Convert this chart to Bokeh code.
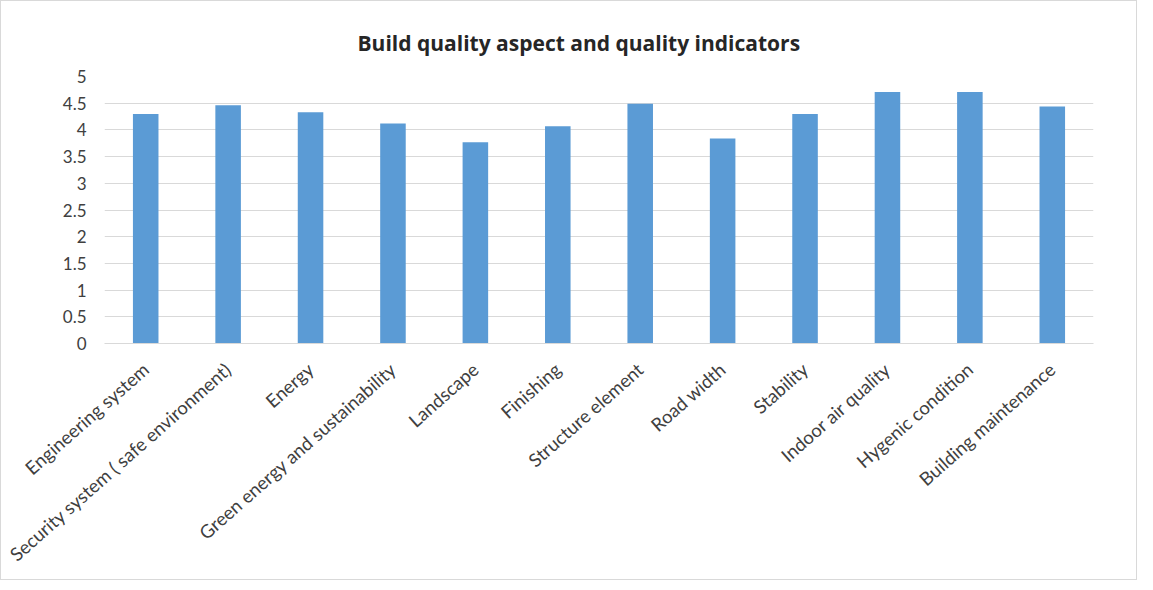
from bokeh.plotting import figure
from bokeh.embed import file_html
from bokeh.resources import INLINE
from bokeh.models import FixedTicker, ColumnDataSource
import math

categories = ["Engineering system", "Security system ( safe environment)", "Energy",
              "Green energy and sustainability", "Landscape", "Finishing",
              "Structure element", "Road width", "Stability", "Indoor air quality",
              "Hygenic condition", "Building maintenance"]
scores = [4.30, 4.46, 4.33, 4.12, 3.77, 4.07, 4.49, 3.84, 4.30, 4.71, 4.71, 4.44]
y_ticks = [0, 0.5, 1, 1.5, 2, 2.5, 3, 3.5, 4, 4.5, 5]
y_tick_labels = {0: "0", 0.5: "0.5", 1: "1", 1.5: "1.5", 2: "2", 2.5: "2.5", 3: "3",
                 3.5: "3.5", 4: "4", 4.5: "4.5", 5: "5"}

src = ColumnDataSource(data=dict(cat=categories, val=scores))

p = figure(x_range=categories, y_range=(0, 5), width=1137, height=580,
           output_backend="svg", toolbar_location=None,
           min_border_left=103, min_border_right=45, min_border_top=75, min_border_bottom=238)

p.vbar(x="cat", top="val", width=0.31, source=src, fill_color="#5B9BD5", line_color=None)

p.title.text = "Build quality aspect and quality indicators"
p.title.align = "left"
p.title.offset = 253
p.title.text_font = "Open Sans"
p.title.text_font_size = "21px"
p.title.text_font_style = "bold"
p.title.text_color = "#262626"
p.title.standoff = 40

p.yaxis.ticker = FixedTicker(ticks=y_ticks)
p.yaxis.major_label_overrides = y_tick_labels
p.yaxis.axis_line_color = None
p.yaxis.major_tick_line_color = None
p.yaxis.minor_tick_line_color = None
p.yaxis.major_label_text_font = "Lato"
p.yaxis.major_label_text_font_size = "17px"
p.yaxis.major_label_text_color = "#404040"
p.yaxis.major_label_standoff = 12

p.xaxis.axis_line_color = "#d9d9d9"
p.xaxis.major_tick_line_color = None
p.xaxis.minor_tick_line_color = None
p.xaxis.major_label_orientation = math.atan2(205, 232)
p.xaxis.major_label_text_font = "Lato"
p.xaxis.major_label_text_font_size = "18.5px"
p.xaxis.major_label_text_color = "#404040"
p.xaxis.major_label_standoff = 17

p.xgrid.grid_line_color = None
p.ygrid.grid_line_color = "#d9d9d9"
p.outline_line_color = None
p.background_fill_color = "white"
p.border_fill_color = "white"
p.styles = {"border": "1px solid #d9d9d9"}

open("out.html", "w").write(file_html(p, INLINE))
